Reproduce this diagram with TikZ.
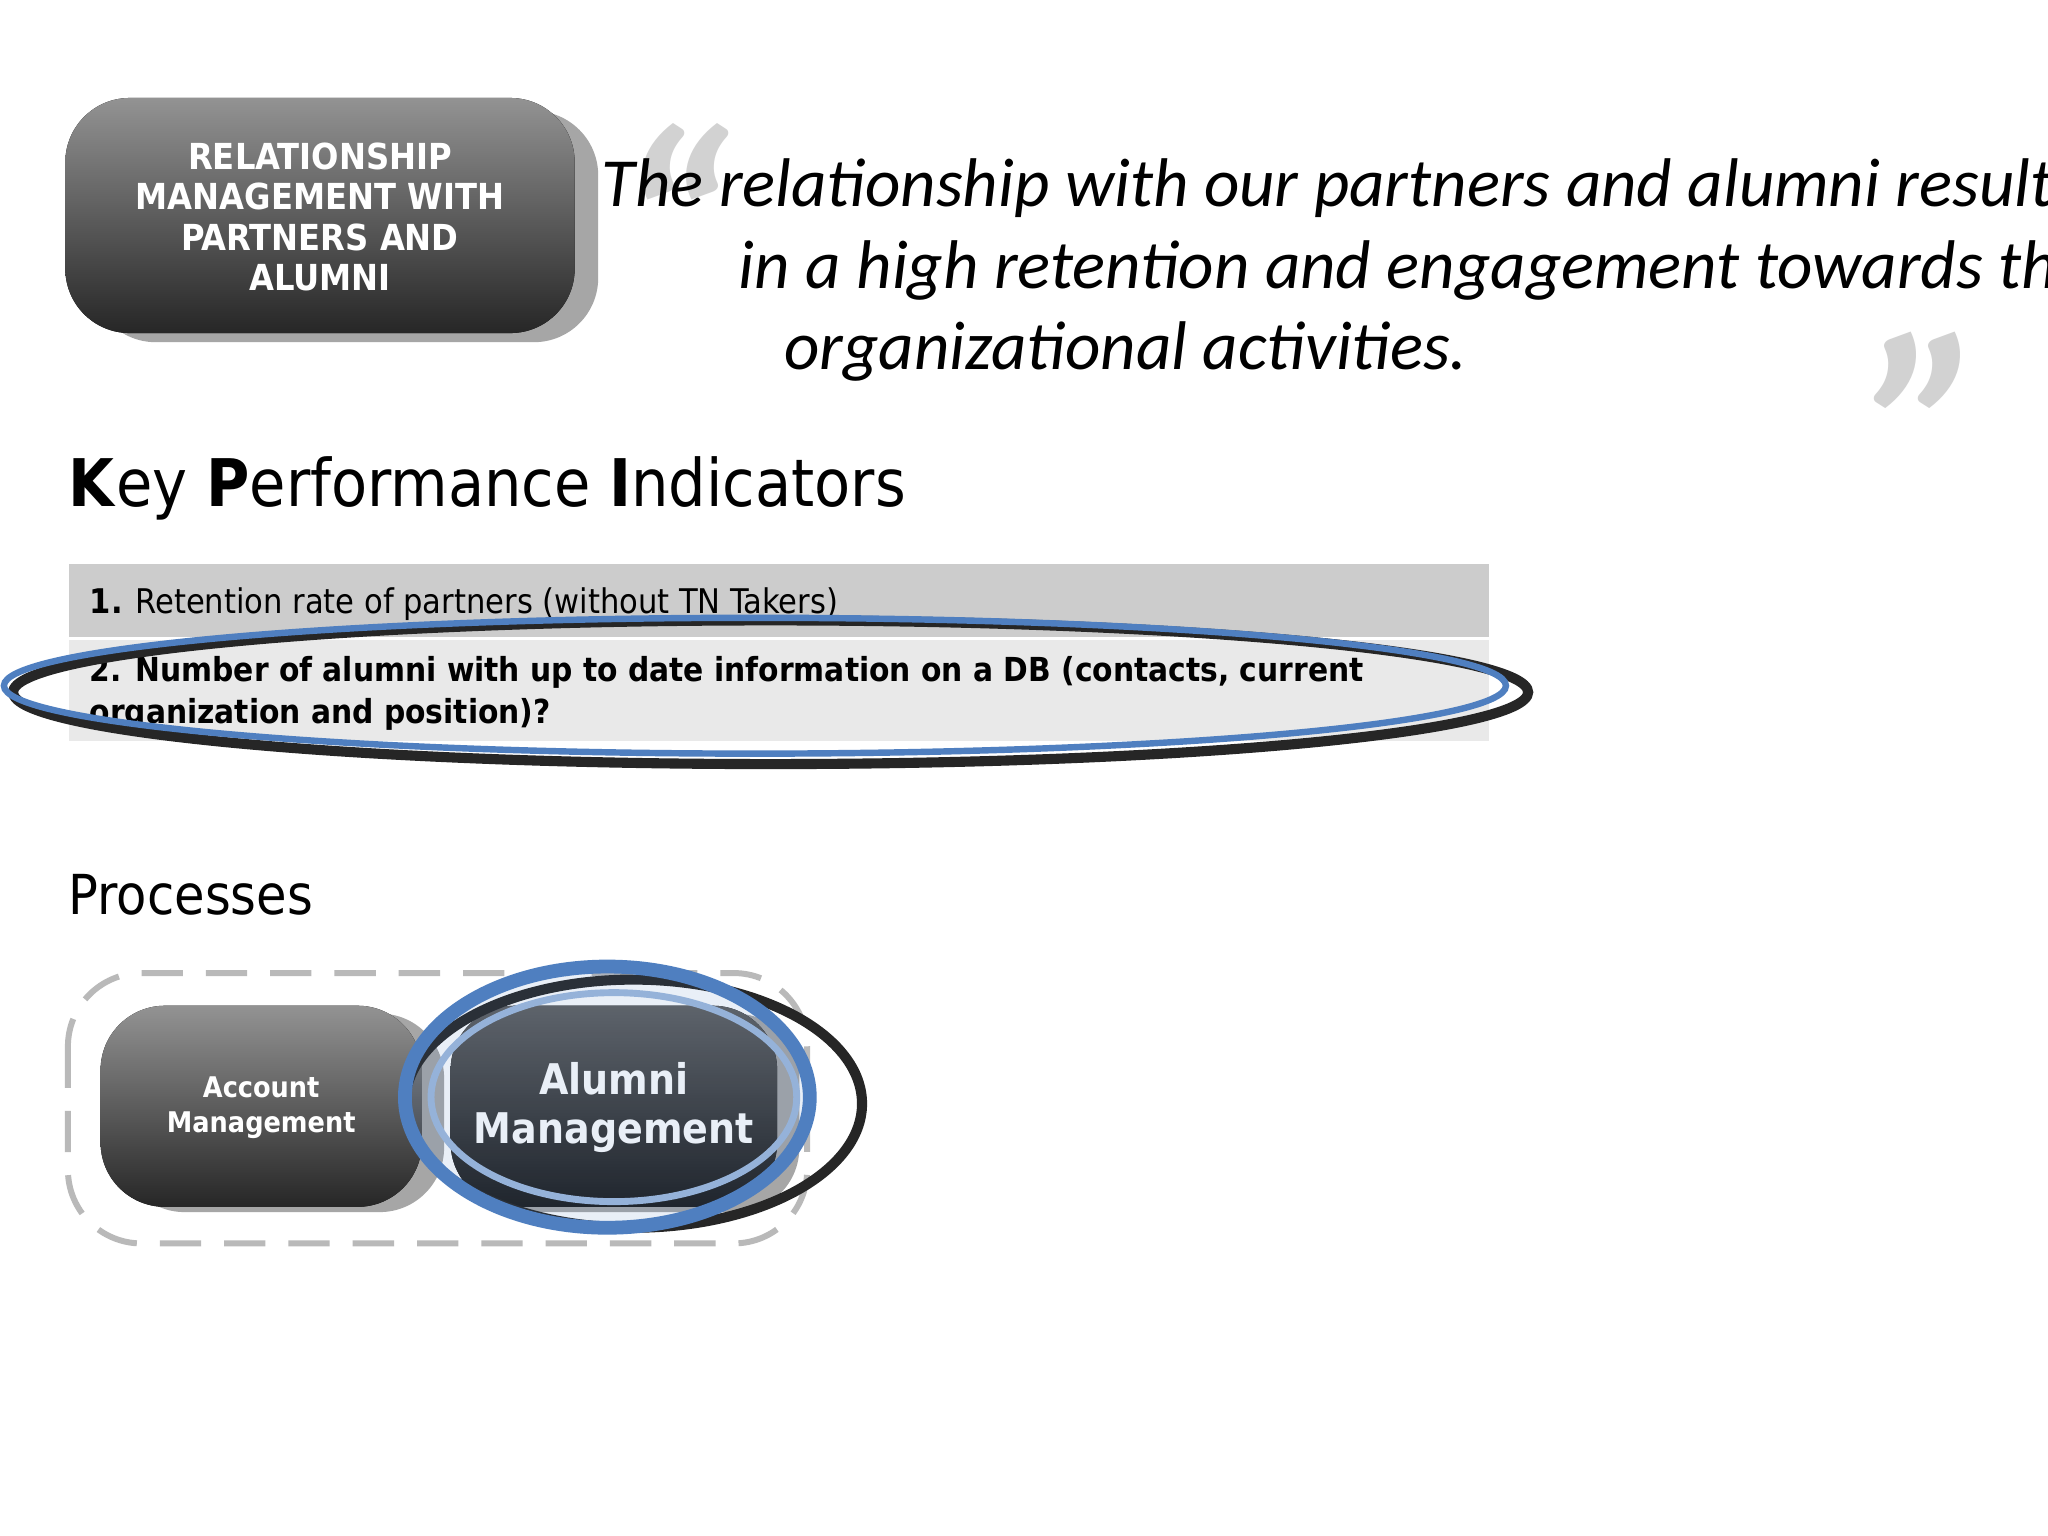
\documentclass[tikz,border=0pt]{standalone}
\usepackage{fontspec}
\setmainfont{Carlito}
\newfontfamily\tah{DejaVu Sans Condensed}
\usetikzlibrary{shadings}
\definecolor{blu}{HTML}{4F7FC0}
\tikzset{
 darkbox/.style={rounded corners=14pt, top color=gray!85!white, bottom color=black!85, draw=none},
 shadowbox/.style={rounded corners=14pt, fill=gray!70, draw=none},
 ptxt/.style={text=white, font=\tah\bfseries, align=center},
 qtxt/.style={anchor=base west, inner sep=0, font=\fontsize{15}{18}\selectfont\itshape},
}
\begin{document}
\begin{tikzpicture}[x=0.01cm,y=-0.01cm]
\useasboundingbox[fill=white] (0,0) rectangle (1568,1176);
% title box
\fill[shadowbox] (70,85) rectangle (458,262);
\fill[darkbox] (50,75) rectangle (440,255);
\node[ptxt, font=\tah\bfseries\fontsize{7.8}{8.8}\selectfont] (title) at (245,166) {RELATIONSHIP\\MANAGEMENT WITH\\PARTNERS AND\\ALUMNI};
% quote marks
\node[text=gray!35, font=\fontsize{60}{60}\selectfont\itshape\bfseries] (q1) at (515,172) {“};
\node[text=gray!35, font=\fontsize{60}{60}\selectfont\itshape\bfseries] (q2) at (1478,330) {”};
% quote text
\node[qtxt] (l1) at (460,158) {The relationship with our partners and alumni results};
\node[qtxt] (l2) at (565,221) {in a high retention and engagement towards the};
\node[qtxt] (l3) at (600,283) {organizational activities.};
% KPI heading
\node[anchor=base west, font=\tah\fontsize{14.3}{18}\selectfont, inner sep=0] (kpi) at (52,388) {\textbf{K}ey \textbf{P}erformance \textbf{I}ndicators};
% table
\fill[gray!40] (53,432) rectangle (1140,488);
\fill[gray!17] (53,490) rectangle (1140,567);
\node[anchor=base west, font=\tah\fontsize{7.4}{9}\selectfont, inner sep=0] (r1) at (68,470) {\textbf{1.} Retention rate of partners (without TN Takers)};
\node[anchor=north west, align=left, font=\tah\bfseries\fontsize{7.2}{9}\selectfont, inner sep=0] (r2) at (68,502) {2. Number of alumni with up to date information on a DB (contacts, current\\organization and position)?};
% ellipse around KPI 2
\draw[black!85, line width=2.2pt] (590,530) ellipse [x radius=580, y radius=55];
\draw[blu, line width=1.4pt] (578,525) ellipse [x radius=575, y radius=52];
% processes
\node[anchor=base west, font=\tah\fontsize{12}{14}\selectfont, inner sep=0] (proc) at (52,700) {Processes};
\draw[gray!55, line width=1.3pt, dash pattern=on 9pt off 5pt, rounded corners=16pt] (52,745) rectangle (618,952);
\fill[shadowbox] (92,776) rectangle (340,928);
\fill[darkbox] (77,770) rectangle (323,924);
\node[ptxt, font=\tah\bfseries\fontsize{6.2}{7.6}\selectfont] (acc) at (200,848) {Account\\Management};
\fill[shadowbox] (360,776) rectangle (612,928);
\fill[rounded corners=14pt, top color=gray!75!black, bottom color=black!90] (345,770) rectangle (595,924);
\node[ptxt, font=\tah\bfseries\fontsize{9.2}{10.6}\selectfont] (alu) at (470,848) {Alumni\\Management};
% ellipses around alumni
\draw[black!85, line width=2.2pt] (485,845) ellipse [x radius=175, y radius=95];
\draw[blu, line width=3pt, fill=blu, fill opacity=0.12] (465,840) ellipse [x radius=155, y radius=100];
\draw[blu!60, line width=1.5pt] (470,840) ellipse [x radius=140, y radius=80];
\end{tikzpicture}
\end{document}
